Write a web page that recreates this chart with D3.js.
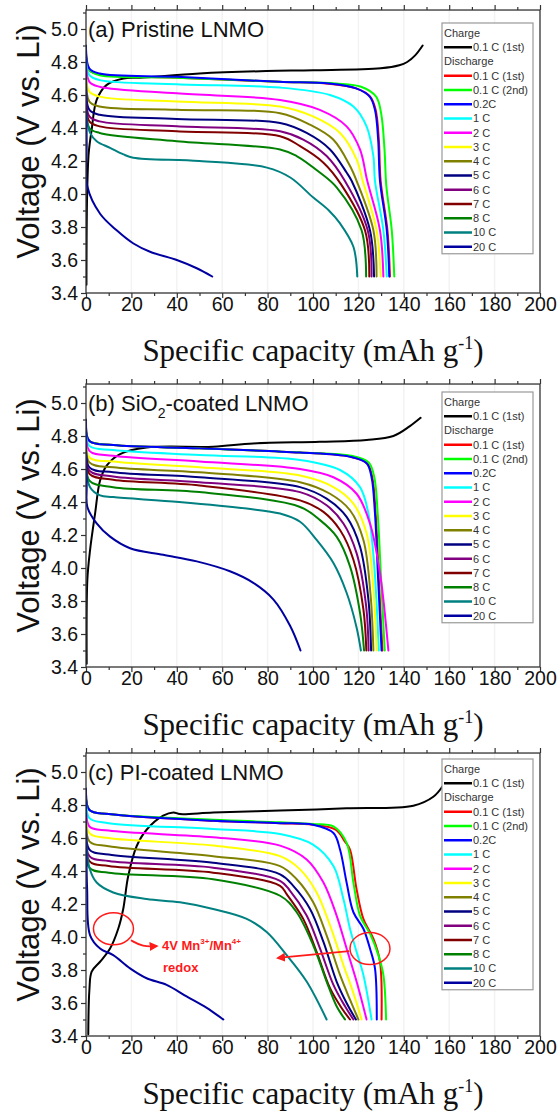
<!DOCTYPE html>
<html>
<head>
<meta charset="utf-8">
<script src="https://cdn.jsdelivr.net/npm/d3@7"></script>
<style>
  html, body { margin: 0; padding: 0; background: #fff; }
  svg { display: block; }
  text { font-family: "Liberation Sans", Arial, sans-serif; }
</style>
</head>
<body>
<svg id="chart" width="560" height="1117"></svg>
<script>
// legend labels for the discharge curves
const rates = ['0.1 C (1st)', '0.1 C (2nd)', '0.2C', '1 C', '2 C', '3 C', '4 C', '5 C', '6 C', '7 C', '8 C', '10 C', '20 C'];
const rateColors = ['#ff0000', '#00ff00', '#0000ff', '#00ffff', '#ff00ff', '#ffff00', '#808000', '#000080', '#800080', '#800000', '#008000', '#008080', '#0000a0'];
const chargeLabel = '0.1 C (1st)';

const xTicks = [0, 20, 40, 60, 80, 100, 120, 140, 160, 180, 200];
const yTicks = [3.4, 3.6, 3.8, 4.0, 4.2, 4.4, 4.6, 4.8, 5.0];

// (a) pristine — [capacity, voltage]
const chargeA = [[0.2,3.45],[0.5,4.0],[1.2,4.25],[2.5,4.39],[4.7,4.57],[9,4.66],[16.5,4.70],[23.8,4.705],[50,4.73],[79.5,4.745],[100,4.75],[129.8,4.762],[138,4.78],[141.5,4.80],[145,4.84],[148.3,4.9]];
const dischargeA = [
  [[0,4.85],[1.5,4.75],[6,4.725],[40,4.705],[85,4.68],[107,4.668],[119,4.64],[125.2,4.59],[127.6,4.51],[129,4.33],[129.8,4.08],[132.8,3.78],[133.9,3.5]],
  [[0,4.85],[1.5,4.75],[6,4.72],[40,4.705],[85,4.68],[110,4.67],[121.2,4.65],[127.8,4.59],[130,4.49],[131.5,4.27],[132.3,4.05],[134.7,3.78],[135.8,3.5]],
  [[0,4.88],[1.5,4.76],[6,4.73],[40,4.71],[85,4.68],[107,4.67],[119,4.64],[125,4.59],[127.3,4.51],[128.7,4.33],[129.5,4.08],[132.5,3.78],[133.6,3.5]],
  [[0,4.82],[1.5,4.72],[6,4.69],[40,4.665],[85.5,4.645],[107.5,4.60],[117.8,4.53],[123.6,4.41],[126.6,4.23],[127.3,4.08],[131,3.78],[132.5,3.5]],
  [[0,4.80],[1.5,4.68],[6,4.65],[40,4.61],[85.5,4.57],[103,4.51],[114.8,4.41],[120.7,4.27],[123.9,4.08],[129.5,3.78],[131,3.5]],
  [[0,4.75],[1.5,4.62],[6,4.59],[40,4.56],[85.5,4.53],[100,4.47],[111.9,4.37],[119.2,4.21],[121.9,4.08],[128,3.78],[129.8,3.5]],
  [[0,4.70],[1.5,4.56],[6,4.53],[40,4.51],[85.5,4.49],[98.7,4.42],[108.9,4.33],[116.3,4.17],[119.2,4.08],[126.6,3.78],[128,3.5]],
  [[0,4.66],[1.5,4.51],[6,4.48],[40,4.455],[85.5,4.43],[97.2,4.37],[107.5,4.27],[114.8,4.13],[117,4.08],[125.1,3.78],[126.9,3.5]],
  [[0,4.62],[1.5,4.47],[6,4.44],[40,4.41],[85.5,4.38],[95.7,4.33],[106,4.23],[114,4.08],[124.1,3.78],[125.8,3.5]],
  [[0,4.60],[1.5,4.44],[6,4.41],[40,4.38],[85.5,4.35],[94.3,4.29],[104.6,4.19],[112.3,4.06],[122.9,3.78],[124.8,3.5]],
  [[0,4.55],[1.5,4.40],[6,4.37],[40,4.32],[85.5,4.27],[92.8,4.23],[103,4.13],[110.4,4.04],[121.4,3.78],[123.4,3.5]],
  [[0,4.50],[1.8,4.37],[4.7,4.32],[10.6,4.28],[16.5,4.24],[20.8,4.22],[50,4.20],[79.7,4.16],[90,4.10],[100,3.98],[107,3.90],[112,3.82],[117.8,3.68],[119.5,3.5]],
  [[0,4.90],[0.3,4.30],[0.6,4.045],[6.2,3.88],[13.5,3.78],[20.9,3.70],[28.2,3.65],[40,3.60],[48.8,3.55],[55.6,3.5]]
];

// (b) SiO2-coated
const chargeB = [[0.3,3.42],[0.6,3.93],[1.8,4.11],[4,4.33],[6.2,4.53],[9.1,4.62],[15,4.69],[26.7,4.73],[56,4.735],[73.7,4.755],[103,4.765],[123.6,4.776],[135.4,4.80],[142.7,4.86],[147.4,4.91]];
const dischargeB = [
  [[0,4.85],[1.5,4.77],[12,4.745],[50,4.725],[94.3,4.70],[116.3,4.675],[123.8,4.635],[126.1,4.55],[127.6,4.33],[129,3.93],[130.6,3.5]],
  [[0,4.85],[1.5,4.77],[12,4.745],[50,4.725],[94.3,4.70],[117,4.68],[124.5,4.64],[127,4.55],[128.5,4.33],[130,3.93],[131.6,3.5]],
  [[0,4.87],[1.5,4.77],[12,4.745],[50,4.725],[94.3,4.70],[116,4.675],[123.6,4.635],[125.8,4.55],[127.3,4.33],[128.7,3.93],[130.2,3.5]],
  [[0,4.85],[1.5,4.74],[12,4.715],[50,4.685],[94.3,4.655],[111.9,4.594],[120.7,4.49],[124.4,4.33],[126.9,4.03],[129,3.5]],
  [[0,4.85],[1.5,4.71],[12,4.68],[50,4.645],[94.3,4.60],[109,4.55],[119.2,4.45],[125.1,4.27],[129.5,3.97],[133.2,3.5]],
  [[0,4.82],[1.5,4.67],[12,4.645],[50,4.61],[94.3,4.56],[109,4.49],[117.8,4.39],[123.6,4.21],[126.5,3.89],[128,3.5]],
  [[0,4.80],[1.5,4.64],[12,4.61],[50,4.58],[94.3,4.52],[107.5,4.45],[116.3,4.35],[122.2,4.17],[125.4,3.83],[126.6,3.5]],
  [[0,4.78],[1.5,4.61],[12,4.58],[50,4.55],[94.3,4.49],[106,4.42],[114.8,4.31],[120.7,4.13],[124.4,3.81],[125.6,3.5]],
  [[0,4.75],[1.5,4.59],[12,4.555],[50,4.52],[94.3,4.46],[106,4.38],[113.4,4.27],[119.2,4.09],[123.4,3.77],[124.5,3.5]],
  [[0,4.72],[1.5,4.57],[12,4.535],[50,4.50],[94.3,4.41],[104.6,4.34],[111.9,4.23],[117.8,4.05],[122.2,3.75],[123.5,3.5]],
  [[0,4.70],[1.5,4.53],[12,4.49],[50,4.46],[94.3,4.37],[103.1,4.29],[110.4,4.19],[116.3,4.01],[120.7,3.73],[122.5,3.5]],
  [[0,4.62],[1.8,4.49],[6.2,4.44],[12,4.43],[41,4.40],[70.8,4.36],[85.5,4.33],[94.3,4.28],[101.6,4.17],[109,4.03],[114.8,3.85],[119.2,3.64],[121.1,3.5]],
  [[0,4.90],[0.3,4.50],[0.6,4.37],[4.7,4.27],[10.6,4.19],[19.4,4.12],[34,4.08],[48.8,4.04],[63.4,3.98],[73.7,3.91],[82.5,3.81],[89.9,3.65],[94.5,3.5]]
];

// (c) PI-coated
const chargeC = [[1,3.41],[1.5,3.68],[2.5,3.79],[6.2,3.85],[10.6,3.93],[14.2,4.05],[16.4,4.17],[18.6,4.37],[22.3,4.55],[26.7,4.65],[34,4.735],[38.5,4.755],[41.4,4.745],[56,4.755],[85.5,4.766],[114.8,4.78],[144.2,4.796],[153,4.85],[157.4,4.92]];
const dischargeC = [
  [[0,4.88],[1.5,4.77],[10,4.745],[56,4.705],[85.5,4.69],[100,4.68],[110,4.65],[114,4.58],[116.3,4.53],[119.2,4.29],[122.2,4.11],[126.6,3.99],[129.5,3.85],[130.2,3.5]],
  [[0,4.88],[1.5,4.77],[10,4.745],[56,4.71],[85.5,4.695],[100,4.685],[109,4.67],[114.8,4.57],[117.8,4.33],[120.7,4.13],[125.1,4.02],[128.8,3.89],[131,3.77],[132.2,3.5]],
  [[0,4.88],[1.5,4.77],[10,4.745],[56,4.705],[85.5,4.69],[100,4.68],[109,4.63],[111.9,4.53],[114.8,4.33],[117.8,4.15],[122.2,4.05],[125.1,3.93],[127.3,3.81],[128.1,3.5]],
  [[0,4.85],[1.5,4.72],[10,4.69],[56,4.655],[85.5,4.624],[100,4.56],[109,4.43],[113.4,4.23],[116.3,4.05],[119.2,3.91],[122.2,3.77],[125.8,3.5]],
  [[0,4.82],[1.5,4.67],[10,4.645],[56,4.604],[85.5,4.554],[97.2,4.47],[104.6,4.33],[110.4,4.13],[114.8,3.93],[119.2,3.73],[123.6,3.5]],
  [[0,4.80],[1.5,4.63],[10,4.60],[56,4.554],[85.5,4.49],[94.3,4.41],[101.6,4.27],[107.5,4.07],[113.4,3.83],[117.8,3.66],[121.4,3.5]],
  [[0,4.78],[1.5,4.58],[10,4.55],[56,4.49],[85.5,4.43],[92.8,4.35],[100.1,4.21],[106,4.01],[111.9,3.77],[116.3,3.62],[120,3.5]],
  [[0,4.75],[1.5,4.53],[10,4.50],[56,4.45],[85.5,4.38],[91.3,4.31],[98.7,4.17],[104.6,3.97],[110.4,3.73],[114.8,3.60],[118.9,3.5]],
  [[0,4.72],[1.5,4.49],[10,4.46],[56,4.42],[85.5,4.34],[89.9,4.28],[97.2,4.13],[103.1,3.93],[109,3.71],[114.1,3.58],[117.8,3.5]],
  [[0,4.70],[1.5,4.46],[10,4.43],[56,4.39],[85.5,4.31],[88.4,4.26],[95.7,4.11],[101.6,3.91],[107.5,3.69],[112.6,3.57],[116.3,3.5]],
  [[0,4.68],[1.5,4.42],[10,4.39],[56,4.35],[85.5,4.25],[92.8,4.15],[100.1,3.95],[106,3.73],[110.4,3.58],[114.1,3.5]],
  [[0,4.60],[1.5,4.42],[4.7,4.33],[12,4.27],[26.7,4.23],[41.4,4.21],[56,4.17],[70.8,4.11],[79.6,4.03],[88.4,3.89],[97.2,3.73],[106,3.5]],
  [[0,4.90],[0.2,4.50],[0.5,4.29],[1.8,4.01],[6.2,3.93],[12,3.89],[19.4,3.81],[26.7,3.75],[35.5,3.71],[44.3,3.64],[53.2,3.57],[60.5,3.5]]
];

// (c) redox annotation, data coordinates
const redoxCircles = [[12.1, 4.05], [125.1, 3.93]];
const redoxArrows = [[[19.8, 3.98], [25, 3.94], [31.2, 3.945]], [[115.9, 3.915], [84.5, 3.873]]];
const redoxText = [33.5, 3.92];

const panels = [
  { key: 'a', off: 0,   legendTop: 23,  title: [['(a) Pristine LNMO', 0]], charge: chargeA, discharge: dischargeA },
  { key: 'b', off: 374, legendTop: 392, title: [['(b) SiO', 0], ['2', 7], ['-coated LNMO', -7]], charge: chargeB, discharge: dischargeB },
  { key: 'c', off: 743, legendTop: 759, title: [['(c) PI-coated LNMO', 0]], charge: chargeC, discharge: dischargeC }
];

const svg = d3.select('#chart');
const left = 86, right = 540;
const yMin = 3.4, yMax = 5.115;

svg.append('defs').append('marker')
  .attr('id', 'head').attr('viewBox', '0 0 10 10')
  .attr('refX', 8).attr('refY', 5)
  .attr('markerWidth', 5).attr('markerHeight', 5)
  .attr('markerUnits', 'strokeWidth')
  .attr('orient', 'auto')
  .append('path').attr('d', 'M0,0L10,5L0,10z').attr('fill', '#ff1a1a');

panels.forEach(p => {
  const bottom = 293 + p.off;
  const x = d3.scaleLinear().domain([0, 200]).range([left, right]);
  const y = d3.scaleLinear().domain([yMin, 5.0]).range([bottom, bottom - 264]);
  const top = y(yMax);
  const g = svg.append('g');

  // faint grid
  g.append('g').selectAll('line').data(xTicks.slice(1, -1)).enter().append('line')
    .attr('x1', d => x(d)).attr('x2', d => x(d)).attr('y1', top).attr('y2', bottom)
    .attr('stroke', '#f3f3f3').attr('stroke-width', 1.5);

  const clipId = 'clip' + p.key;
  g.append('clipPath').attr('id', clipId).append('rect')
    .attr('x', left).attr('y', top).attr('width', right - left).attr('height', bottom - top);

  const line = d3.line().x(d => x(d[0])).y(d => y(d[1])).curve(d3.curveCatmullRom.alpha(0.5));
  const curves = g.append('g').attr('clip-path', `url(#${clipId})`).attr('fill', 'none')
    .attr('stroke-width', 2).attr('stroke-linejoin', 'round').attr('stroke-linecap', 'round');
  curves.append('path').attr('d', line(p.charge)).attr('stroke', '#000');
  p.discharge.forEach((s, i) => {
    curves.append('path').attr('d', line(s)).attr('stroke', rateColors[i]);
  });

  // frame
  g.append('rect').attr('x', left).attr('y', top).attr('width', right - left).attr('height', bottom - top)
    .attr('fill', 'none').attr('stroke', '#333').attr('stroke-width', 1.3);

  // axes
  const clean = a => { a.select('.domain').remove(); a.selectAll('line').attr('stroke', '#333').attr('stroke-width', 1.2); };
  const xMinor = d3.range(10, 200, 20);
  const yMinor = [3.5, 3.7, 3.9, 4.1, 4.3, 4.5, 4.7, 4.9, 5.1];

  const xb = g.append('g').attr('transform', `translate(0,${bottom})`)
    .call(d3.axisBottom(x).tickValues(xTicks).tickSize(5).tickFormat(d3.format('d')));
  clean(xb);
  xb.selectAll('text').attr('dy', null).attr('y', 18).attr('fill', '#111')
    .style('font-size', '19.5px');
  g.append('g').attr('transform', `translate(0,${bottom})`)
    .call(d3.axisBottom(x).tickValues(xMinor).tickSize(3).tickFormat('')).call(clean);
  g.append('g').attr('transform', `translate(0,${top})`)
    .call(d3.axisTop(x).tickValues(xTicks).tickSize(5).tickFormat('')).call(clean);
  g.append('g').attr('transform', `translate(0,${top})`)
    .call(d3.axisTop(x).tickValues(xMinor).tickSize(3).tickFormat('')).call(clean);

  const yl = g.append('g').attr('transform', `translate(${left},0)`)
    .call(d3.axisLeft(y).tickValues(yTicks).tickSize(5).tickPadding(3).tickFormat(d3.format('.1f')));
  clean(yl);
  yl.selectAll('text').attr('fill', '#111').style('font-size', '19.5px');
  g.append('g').attr('transform', `translate(${left},0)`)
    .call(d3.axisLeft(y).tickValues(yMinor.filter(v => v < yMax)).tickSize(3).tickFormat('')).call(clean);

  // axis titles
  g.append('text')
    .attr('transform', `translate(39,${(top + bottom) / 2 - 10}) rotate(-90)`)
    .attr('text-anchor', 'middle').attr('fill', '#111')
    .style('font-size', '31px').text('Voltage (V vs. Li)');

  const xt = g.append('text')
    .attr('x', (left + right) / 2).attr('y', bottom + 68)
    .attr('text-anchor', 'middle').attr('fill', '#111')
    .style('font-family', '"Liberation Serif", "Times New Roman", serif')
    .style('font-size', '31px');
  xt.append('tspan').text('Specific capacity (mAh g');
  xt.append('tspan').attr('dy', -12).style('font-size', '18px').text('-1');
  xt.append('tspan').attr('dy', 12).text(')');

  // panel title
  const tt = g.append('text').attr('x', 88).attr('y', top + 27).attr('fill', '#111').style('font-size', '22px');
  p.title.forEach(([s, dy]) => {
    const ts = tt.append('tspan').attr('dy', dy).text(s);
    if (dy > 0) ts.style('font-size', '14px');
  });

  // legend
  const lg = g.append('g');
  const step = 14.25;
  const rowY = i => p.legendTop + 10 + i * step;
  lg.append('rect').attr('x', 442).attr('y', p.legendTop).attr('width', 91).attr('height', step * 15 + 17)
    .attr('fill', '#fff').attr('stroke', '#999').attr('stroke-width', 1.2);
  const legendRows = [{ head: 'Charge' }, { label: chargeLabel, color: '#000' }, { head: 'Discharge' }]
    .concat(rates.map((r, i) => ({ label: r, color: rateColors[i] })));
  legendRows.forEach((r, i) => {
    const cy = rowY(i);
    if (r.head) {
      lg.append('text').attr('x', 444).attr('y', cy).attr('dy', '0.35em')
        .attr('fill', '#333').style('font-size', '11px').text(r.head);
    } else {
      lg.append('line').attr('x1', 444).attr('x2', 472).attr('y1', cy).attr('y2', cy)
        .attr('stroke', r.color).attr('stroke-width', 2.5);
      lg.append('text').attr('x', 473).attr('y', cy).attr('dy', '0.35em')
        .attr('fill', '#333').style('font-size', '11px').text(r.label);
    }
  });

  if (p.key === 'c') {
    const an = g.append('g');
    redoxCircles.forEach(c => {
      an.append('ellipse').attr('cx', x(c[0])).attr('cy', y(c[1])).attr('rx', 20).attr('ry', 16)
        .attr('fill', 'none').attr('stroke', '#ff1a1a').attr('stroke-width', 1.5);
    });
    const aline = d3.line().x(d => x(d[0])).y(d => y(d[1])).curve(d3.curveBasis);
    redoxArrows.forEach(a => {
      an.append('path').attr('d', aline(a)).attr('fill', 'none')
        .attr('stroke', '#ff1a1a').attr('stroke-width', 1.8).attr('marker-end', 'url(#head)');
    });
    const rt = an.append('text').attr('x', x(redoxText[0])).attr('y', y(redoxText[1]))
      .attr('fill', '#ff1a1a').style('font-size', '13px').style('font-weight', 'bold');
    rt.append('tspan').text('4V Mn');
    rt.append('tspan').attr('dy', -6).style('font-size', '8px').text('3+');
    rt.append('tspan').attr('dy', 6).text('/Mn');
    rt.append('tspan').attr('dy', -6).style('font-size', '8px').text('4+');
    an.append('text').attr('x', x(redoxText[0]) + 1).attr('y', y(redoxText[1]) + 22)
      .attr('fill', '#ff1a1a').style('font-size', '13px').style('font-weight', 'bold').text('redox');
  }
});
</script>
</body>
</html>
